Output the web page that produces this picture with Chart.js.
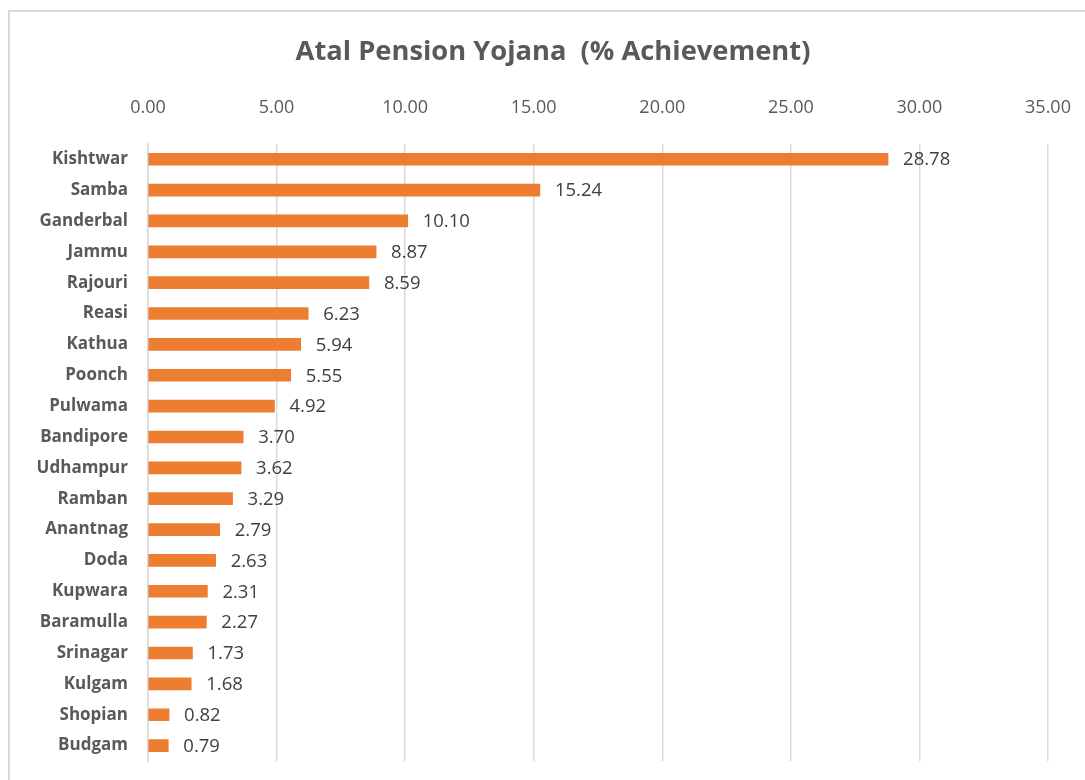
<!DOCTYPE html>
<html>
<head>
<meta charset="utf-8">
<script src="https://cdn.jsdelivr.net/npm/chart.js@4/dist/chart.umd.min.js"></script>
<style>
  html, body { margin: 0; padding: 0; background: #fff; overflow: hidden; }
  #frame {
    position: absolute; left: 8px; top: 10px; width: 1200px; height: 900px;
    border: 2px solid #d9d9d9; box-sizing: border-box;
  }
  #wrap { position: absolute; left: 0; top: 0; width: 1085px; height: 780px; }
  #title {
    position: absolute; left: 253px; width: 600px; top: 31px; line-height: 38px;
    text-align: center; white-space: pre;
    font: bold 27.3px 'Open Sans', sans-serif; color: #595959;
  }
</style>
</head>
<body>
<div id="frame"></div>
<div id="wrap"><canvas id="apyChart"></canvas></div>
<div id="title">Atal Pension Yojana  (% Achievement)</div>
<script>
/* ── Data ── */
const districts = ['Kishtwar', 'Samba', 'Ganderbal', 'Jammu', 'Rajouri', 'Reasi', 'Kathua', 'Poonch',
  'Pulwama', 'Bandipore', 'Udhampur', 'Ramban', 'Anantnag', 'Doda', 'Kupwara', 'Baramulla',
  'Srinagar', 'Kulgam', 'Shopian', 'Budgam'];
const achievement = [28.78, 15.24, 10.10, 8.87, 8.59, 6.23, 5.94, 5.55, 4.92, 3.70, 3.62, 3.29,
  2.79, 2.63, 2.31, 2.27, 1.73, 1.68, 0.82, 0.79];
const axisTicks = [0, 5, 10, 15, 20, 25, 30, 35];

const FONT = "'Open Sans', sans-serif";

/* ── Data labels at bar ends ── */
const barValueLabels = {
  id: 'barValueLabels',
  afterDatasetsDraw(chart) {
    const { ctx } = chart;
    const meta = chart.getDatasetMeta(0);
    ctx.save();
    ctx.font = `18.5px ${FONT}`;
    ctx.fillStyle = '#404040';
    ctx.textAlign = 'left';
    ctx.textBaseline = 'middle';
    meta.data.forEach((bar, i) => {
      ctx.fillText(achievement[i].toFixed(2), bar.x + 15, bar.y + 1);
    });
    ctx.restore();
  }
};

new Chart(document.getElementById('apyChart'), {
  type: 'bar',
  data: {
    labels: districts,
    datasets: [{
      data: achievement,
      backgroundColor: '#ED7D31',
      barThickness: 12
    }]
  },
  options: {
    indexAxis: 'y',
    responsive: true,
    maintainAspectRatio: false,
    animation: false,
    layout: { padding: { left: 0, right: 37, top: 68.8, bottom: 19 } },
    plugins: {
      legend: { display: false },
      tooltip: { enabled: false },
      title: { display: false }
    },
    scales: {
      x: {
        position: 'top',
        min: 0,
        max: 35,
        afterBuildTicks: scale => { scale.ticks = axisTicks.map(v => ({ value: v })); },
        afterFit: scale => {
          scale.height = 75;
          scale.paddingLeft = 0;
          scale.paddingRight = 0;
        },
        ticks: {
          padding: 25,
          color: '#595959',
          font: { family: FONT, size: 18 },
          callback: val => Number(val).toFixed(2)
        },
        grid: { color: '#d9d9d9', lineWidth: 1.5, drawTicks: false },
        border: { display: false }
      },
      y: {
        afterFit: scale => {
          scale.width = 148;
          scale.paddingTop = 0;
          scale.paddingBottom = 0;
        },
        ticks: {
          padding: 20,
          color: '#595959',
          font: { family: FONT, size: 17, weight: 'bold' }
        },
        grid: { display: false, drawTicks: false },
        border: { display: true, color: '#d9d9d9', width: 1.5 }
      }
    }
  },
  plugins: [barValueLabels]
});
</script>
</body>
</html>
